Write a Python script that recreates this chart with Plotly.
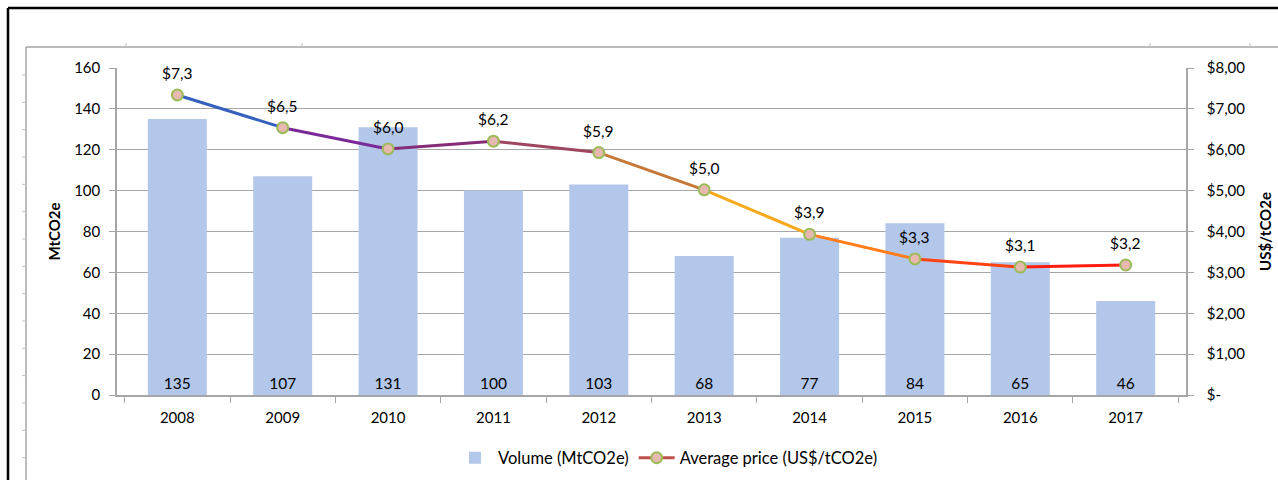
import plotly.graph_objects as go

# ---- data ----
years = ["2008", "2009", "2010", "2011", "2012", "2013", "2014", "2015", "2016", "2017"]
volume = [135, 107, 131, 100, 103, 68, 77, 84, 65, 46]
price = [7.34, 6.54, 6.02, 6.21, 5.93, 5.02, 3.93, 3.33, 3.13, 3.18]
price_ticks = [0, 1, 2, 3, 4, 5, 6, 7, 8]
price_ticktext = ["$-", "$1,00", "$2,00", "$3,00", "$4,00", "$5,00", "$6,00", "$7,00", "$8,00"]
volume_ticks = [0, 20, 40, 60, 80, 100, 120, 140, 160]

# ---- styles ----
seg_colors = ["#3560bd", "#7a2a98", "#852c78", "#9e4660", "#c6783a",
              "#f7a91c", "#ff7d1a", "#ff4212", "#ff1c10"]
FONT = "Lato, Carlito, Calibri, 'Noto Sans', sans-serif"
GRID = "#a6a6a6"

W, H = 1278, 480
ML, MR, MT, MB = 117, 92, 68, 85
PW, PH = W - ML - MR, H - MT - MB


def px(x):
    return (x - ML) / PW


def py(y):
    return (H - MB - y) / PH


fig = go.Figure()

fig.add_trace(go.Bar(
    x=years, y=volume, name="Volume (MtCO2e)",
    marker=dict(color="#b3c7ea", line=dict(width=0)),
    width=0.56,
    text=[str(v) for v in volume], textposition="inside",
    insidetextanchor="start", textangle=0, constraintext="none",
    textfont=dict(size=15.5, color="#000", family=FONT),
    yaxis="y",
))

for i in range(len(years) - 1):
    fig.add_trace(go.Scatter(
        x=[years[i], years[i + 1]], y=[price[i], price[i + 1]],
        mode="lines", line=dict(color=seg_colors[i], width=3),
        yaxis="y2", showlegend=False, hoverinfo="skip",
    ))

fig.add_trace(go.Scatter(
    x=years, y=price, mode="markers", yaxis="y2", showlegend=False,
    marker=dict(size=11, color="#e6b8ae", line=dict(color="#9bbb59", width=2)),
))

# legend-only entry for the price line
fig.add_trace(go.Scatter(
    x=[years[0]], y=[None], mode="lines+markers", yaxis="y2",
    name="Average price (US$/tCO2e)",
    line=dict(color="#c0504d", width=3),
    marker=dict(size=11, color="#e6b8ae", line=dict(color="#9bbb59", width=2)),
))

annotations = []
for i, p in enumerate(price):
    annotations.append(dict(
        x=i, y=p, xref="x", yref="y2", showarrow=False,
        text="$" + f"{p:.1f}".replace(".", ","), yshift=22,
        font=dict(size=15.5, color="#000", family=FONT),
    ))

shapes = []
# outer black frame
shapes.append(dict(type="line", xref="paper", yref="paper", x0=px(8), y0=py(8), x1=px(1290), y1=py(8),
                   line=dict(color="#000", width=2.5)))
shapes.append(dict(type="line", xref="paper", yref="paper", x0=px(8), y0=py(8), x1=px(8), y1=py(490),
                   line=dict(color="#000", width=2.5)))
# inner gray frame
shapes.append(dict(type="line", xref="paper", yref="paper", x0=px(26), y0=py(47), x1=px(1290), y1=py(47),
                   line=dict(color="#a6a6a6", width=1.5)))
shapes.append(dict(type="line", xref="paper", yref="paper", x0=px(26), y0=py(47), x1=px(26), y1=py(490),
                   line=dict(color="#a6a6a6", width=1.5)))
for k in range(15):
    yy = 75 + 27.33 * k
    shapes.append(dict(type="line", xref="paper", yref="paper", x0=px(22), y0=py(yy), x1=px(26), y1=py(yy),
                       line=dict(color="#c0c0c0", width=1)))
for xx in [126, 302, 1150, 1250]:
    shapes.append(dict(type="line", xref="paper", yref="paper", x0=px(xx), y0=py(43), x1=px(xx), y1=py(47),
                       line=dict(color="#c0c0c0", width=1)))

axis_font = dict(size=15, color="#000", family=FONT)

fig.update_layout(
    width=W, height=H,
    margin=dict(l=ML, r=MR, t=MT, b=MB, autoexpand=False),
    plot_bgcolor="white", paper_bgcolor="white",
    font=dict(family=FONT, size=15, color="#000"),
    showlegend=True,
    legend=dict(orientation="h", x=0.515, xanchor="center", y=py(458), yanchor="middle",
                font=dict(size=16.5, family=FONT, color="#000"), bgcolor="rgba(0,0,0,0)",
                itemwidth=36, tracegroupgap=0),
    bargap=0.44,
    xaxis=dict(
        type="category", showline=True, linecolor=GRID, linewidth=1.5,
        ticks="outside", tickson="boundaries", ticklen=6, tickcolor=GRID,
        tickfont=axis_font, showgrid=False, ticklabelstandoff=8, automargin=False,
    ),
    yaxis=dict(
        range=[0, 160], tickvals=volume_ticks, showline=True, linecolor=GRID, linewidth=1.5,
        ticks="outside", ticklen=6, tickcolor=GRID, tickfont=axis_font,
        showgrid=True, gridcolor=GRID, gridwidth=1.3, zeroline=False,
        ticklabelstandoff=6, automargin=False,
        title=dict(text="<b>MtCO2e</b>", font=dict(size=15, family=FONT, color="#000"), standoff=10),
    ),
    yaxis2=dict(
        range=[0, 8], tickvals=price_ticks, ticktext=price_ticktext, overlaying="y", side="right",
        showline=True, linecolor=GRID, linewidth=1.5, ticks="outside", ticklen=6, tickcolor=GRID,
        tickfont=axis_font, showgrid=False, zeroline=False, ticklabelstandoff=10, automargin=False,
        title=dict(text="<b>US$/tCO2e</b>", font=dict(size=15, family=FONT, color="#000"), standoff=16),
    ),
    annotations=annotations,
    shapes=shapes,
)

fig.write_html("out.html", config={"displayModeBar": False},
               post_script="document.body.style.margin='0';")
